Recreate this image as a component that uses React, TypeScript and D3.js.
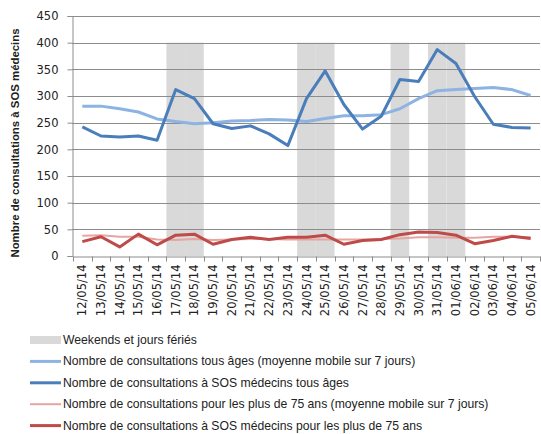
import React, { useRef, useEffect } from 'react';
import * as d3 from 'd3';

const dates = [
  '12/05/14', '13/05/14', '14/05/14', '15/05/14', '16/05/14', '17/05/14', '18/05/14',
  '19/05/14', '20/05/14', '21/05/14', '22/05/14', '23/05/14', '24/05/14', '25/05/14',
  '26/05/14', '27/05/14', '28/05/14', '29/05/14', '30/05/14', '31/05/14', '01/06/14',
  '02/06/14', '03/06/14', '04/06/14', '05/06/14',
];

// weekends and public holidays
const offDays = ['17/05/14', '18/05/14', '24/05/14', '25/05/14', '29/05/14', '31/05/14', '01/06/14'];

const allAgesAvg = [281, 281, 276, 270, 257, 252, 248, 250, 253, 254, 256, 255, 252, 258, 263, 263, 265, 276, 295, 310, 312, 314, 316, 312, 301];
const allAges = [242, 225, 223, 225, 217, 312, 295, 248, 239, 244, 229, 207, 295, 347, 284, 238, 262, 331, 327, 387, 361, 299, 247, 241, 240];
const over75Avg = [38, 39, 36, 36, 31, 30, 32, 30, 31, 32, 32, 31, 31, 31, 31, 31, 32, 33, 35, 35, 34, 34, 36, 36, 35];
const over75 = [27, 36, 17, 41, 21, 39, 41, 22, 31, 35, 31, 35, 35, 39, 22, 29, 31, 40, 45, 44, 39, 23, 29, 37, 33];

const yTicks = [0, 50, 100, 150, 200, 250, 300, 350, 400, 450];

const series = [
  { label: 'Nombre de consultations tous âges (moyenne mobile sur 7 jours)', values: allAgesAvg, color: '#8db3e2', width: 3 },
  { label: 'Nombre de consultations à SOS médecins tous âges', values: allAges, color: '#4a7ebb', width: 3 },
  { label: 'Nombre de consultations pour les plus de 75 ans (moyenne mobile sur 7 jours)', values: over75Avg, color: '#e6a5a3', width: 2 },
  { label: 'Nombre de consultations à SOS médecins pour les plus de 75 ans', values: over75, color: '#be4b48', width: 3 },
];

const App = () => {
  const svgRef = useRef<SVGSVGElement>(null);

  useEffect(() => {
    const w = 541;
    const h = 434;
    const svg = d3.select(svgRef.current).attr('width', w).attr('height', h);
    svg.selectAll('*').remove();

    const left = 73;
    const right = 540;
    const top = 16;
    const bottom = 256;

    const x = d3.scaleBand().domain(dates).range([left, right]);
    const y = d3.scaleLinear().domain([0, 450]).range([bottom, top]);

    // bands for weekends / holidays
    svg
      .append('g')
      .selectAll('rect')
      .data(offDays)
      .join('rect')
      .attr('x', (d) => x(d)!)
      .attr('y', y(400))
      .attr('width', x.bandwidth())
      .attr('height', y(0) - y(400))
      .style('fill', '#d9d9d9');

    // gridlines
    svg
      .append('g')
      .selectAll('line')
      .data(yTicks.filter((t) => t > 0))
      .join('line')
      .attr('x1', left - 1)
      .attr('x2', right)
      .attr('y1', (d) => Math.round(y(d)) + 0.5)
      .attr('y2', (d) => Math.round(y(d)) + 0.5)
      .style('stroke', '#8c8c8c')
      .style('stroke-width', 1);

    // y axis
    const yAxis = d3.axisLeft(y).tickValues(yTicks).tickSize(5).tickPadding(9);
    const gy = svg.append('g').attr('transform', `translate(${left - 0.5}, 0)`).call(yAxis);
    gy.selectAll('path, line').style('stroke', '#8c8c8c');
    gy.selectAll('text')
      .style('font-family', 'DejaVu Sans')
      .style('font-size', '11.5px')
      .style('fill', '#222');

    // x axis
    const xAxis = d3.axisBottom(x).tickSize(0).tickPadding(6);
    const gx = svg.append('g').attr('transform', `translate(0, ${Math.round(bottom) + 0.5})`).call(xAxis);
    gx.select('.domain').style('stroke', '#8c8c8c');
    gx.selectAll('text')
      .attr('transform', 'rotate(-90)')
      .attr('x', -8)
      .attr('y', 0)
      .attr('dy', '0.35em')
      .style('text-anchor', 'end')
      .style('font-family', 'DejaVu Sans')
      .style('font-size', '11.5px')
      .style('fill', '#222');
    // boundary ticks
    gx.append('g')
      .selectAll('line')
      .data(d3.range(dates.length + 1))
      .join('line')
      .attr('x1', (i) => Math.round(left + i * x.step()) + 0.5)
      .attr('x2', (i) => Math.round(left + i * x.step()) + 0.5)
      .attr('y1', 0)
      .attr('y2', 5)
      .style('stroke', '#8c8c8c');

    // lines
    const line = d3
      .line<number>()
      .x((d, i) => x(dates[i])! + x.bandwidth() / 2)
      .y((d) => y(d));

    svg
      .append('g')
      .selectAll('path')
      .data(series)
      .join('path')
      .attr('d', (s) => line(s.values))
      .style('fill', 'none')
      .style('stroke', (s) => s.color)
      .style('stroke-width', (s) => s.width)
      .style('stroke-linejoin', 'round');

    // y axis title
    svg
      .append('text')
      .attr('transform', `translate(19, 143) rotate(-90)`)
      .attr('text-anchor', 'middle')
      .style('font-family', 'Liberation Sans')
      .style('font-weight', 'bold')
      .style('font-size', '11.4px')
      .style('fill', '#222')
      .text('Nombre de consultations  à SOS médecins');

    // legend
    const legend = svg.append('g');
    const rowY = (i: number) => 340 + i * 21.4;
    legend
      .append('rect')
      .attr('x', 30)
      .attr('y', rowY(0) - 4)
      .attr('width', 31)
      .attr('height', 8)
      .style('fill', '#d9d9d9');
    legend
      .append('text')
      .attr('x', 63)
      .attr('y', rowY(0))
      .attr('dy', '0.35em')
      .style('font-family', 'Liberation Sans')
      .style('font-size', '12.2px')
      .style('fill', '#222')
      .text('Weekends et jours fériés');

    series.forEach((s, i) => {
      legend
        .append('line')
        .attr('x1', 30)
        .attr('x2', 61)
        .attr('y1', rowY(i + 1))
        .attr('y2', rowY(i + 1))
        .style('stroke', s.color)
        .style('stroke-width', s.width);
      legend
        .append('text')
        .attr('x', 63)
        .attr('y', rowY(i + 1))
        .attr('dy', '0.32em')
        .style('font-family', 'Liberation Sans')
        .style('font-size', '12.2px')
        .style('fill', '#222')
        .text(s.label);
    });
  }, []);

  return <svg ref={svgRef} style={{ position: 'absolute', left: 0, top: 0 }}></svg>;
};

export default App;
